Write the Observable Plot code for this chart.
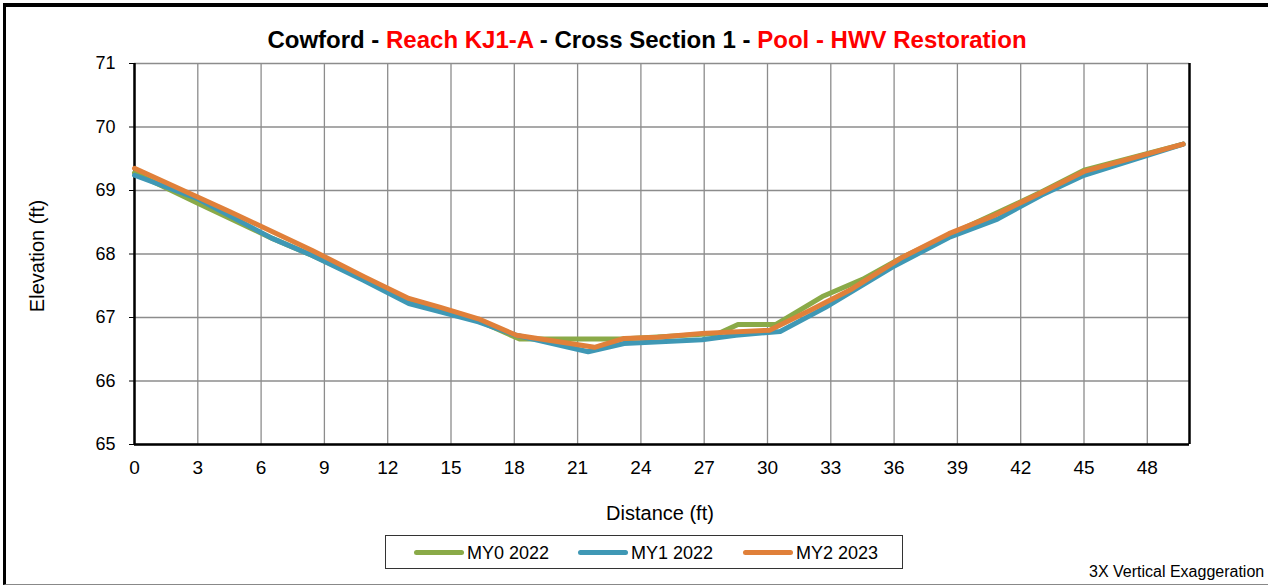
<!DOCTYPE html>
<html>
<head>
<meta charset="utf-8">
<script src="https://cdn.jsdelivr.net/npm/d3@7"></script>
<script src="https://cdn.jsdelivr.net/npm/@observablehq/plot@0.6"></script>
<style>
  html, body { margin: 0; padding: 0; background: #fff; }
  #wrap { position: relative; width: 1268px; height: 587px; overflow: hidden; font-family: "Liberation Sans", Arial, sans-serif; background: #fff; }
  #frame { position: absolute; left: 3px; top: 3px; width: 1280px; height: 582px; border-top: 4px solid #000; border-left: 3px solid #000; border-bottom: 1px solid #888; box-sizing: border-box; }
  #title { position: absolute; left: 0; width: 1294px; top: 26px; text-align: center; font-weight: bold; font-size: 24px; color: #000; white-space: nowrap; }
  #title .red { color: #ff0000; }
  #chart { position: absolute; left: 0; top: 0; }
  #legend { position: absolute; left: 385px; top: 535px; width: 518px; height: 34px; border: 1px solid #333; box-sizing: border-box; font-size: 18px; }
  .item { position: absolute; top: 7px; white-space: nowrap; }
  .sw { display: inline-block; width: 50px; height: 5px; border-radius: 3px; vertical-align: middle; margin-right: 3px; position: relative; top: -2px; }
  #note { position: absolute; left: 1089px; top: 563px; font-size: 16px; white-space: nowrap; }
  #xlabel { position: absolute; left: 460px; width: 400px; top: 502px; text-align: center; font-size: 20px; white-space: nowrap; }
  #ylabel { position: absolute; left: 37px; top: 256px; font-size: 20px; white-space: nowrap; transform: translate(-50%, -50%) rotate(-90deg); }
</style>
</head>
<body>
<div id="wrap">
  <div id="frame"></div>
  <div id="chart"></div>
  <div id="title">Cowford - <span class="red">Reach KJ1-A</span> - Cross Section 1 - <span class="red">Pool - HWV Restoration</span></div>
  <div id="xlabel">Distance (ft)</div>
  <div id="ylabel">Elevation (ft)</div>
  <div id="legend"></div>
  <div id="note">3X Vertical Exaggeration</div>
</div>
<script>
const seriesNames = ["MY0 2022", "MY1 2022", "MY2 2023"];
const seriesColors = ["#8AAA48", "#3F98B5", "#E0803A"];

const my0Distance = [0, 3, 6.5, 8.4, 10.9, 13, 14.5, 16.3, 18.25, 23.1, 27.7, 28.6, 30.4, 32.6, 34.5, 36.4, 38.6, 40.7, 43, 45, 49.7];
const my0Elevation = [69.28, 68.8, 68.25, 67.98, 67.6, 67.25, 67.1, 66.95, 66.66, 66.66, 66.75, 66.89, 66.89, 67.33, 67.6, 67.95, 68.3, 68.62, 68.98, 69.32, 69.73];

const my1Distance = [0, 3, 6.5, 8.4, 10.9, 13, 14.5, 16.3, 18.1, 21.5, 23.2, 26.9, 28.5, 30.6, 32.75, 35.9, 38.6, 40.9, 43, 45, 49.7];
const my1Elevation = [69.24, 68.87, 68.25, 67.98, 67.58, 67.22, 67.09, 66.93, 66.72, 66.46, 66.59, 66.65, 66.72, 66.78, 67.16, 67.79, 68.26, 68.55, 68.93, 69.24, 69.73];

const my2Distance = [0, 4.5, 8.4, 10.9, 13, 14.5, 16.3, 18.1, 21.8, 23.2, 24.8, 26.9, 30.1, 32, 34, 36.4, 38.6, 40.7, 43, 45, 49.7];
const my2Elevation = [69.35, 68.67, 68.06, 67.64, 67.3, 67.16, 66.98, 66.72, 66.53, 66.67, 66.69, 66.75, 66.8, 67.11, 67.45, 67.95, 68.32, 68.6, 68.97, 69.3, 69.73];

const xTicks = [0, 3, 6, 9, 12, 15, 18, 21, 24, 27, 30, 33, 36, 39, 42, 45, 48];
const yTicks = [65, 66, 67, 68, 69, 70, 71];

const build = (name, xs, ys) => xs.map((d, i) => ({series: name, distance: d, elevation: ys[i]}));
const data = [
  ...build(seriesNames[0], my0Distance, my0Elevation),
  ...build(seriesNames[1], my1Distance, my1Elevation),
  ...build(seriesNames[2], my2Distance, my2Elevation)
];

const chart = Plot.plot({
  width: 1268,
  height: 587,
  marginLeft: 134,
  marginRight: 79,
  marginTop: 63,
  marginBottom: 143,
  style: {fontFamily: "'Liberation Sans', Arial, sans-serif", background: "transparent", color: "#000"},
  x: {domain: [0, 50], ticks: xTicks, label: null},
  y: {domain: [65, 71], ticks: yTicks, label: null},
  color: {domain: seriesNames, range: seriesColors},
  marks: [
    Plot.gridX(xTicks, {stroke: "#8c8c8c", strokeOpacity: 1, strokeWidth: 1.3}),
    Plot.gridY(yTicks, {stroke: "#8c8c8c", strokeOpacity: 1, strokeWidth: 1.3}),
    Plot.axisX(xTicks, {tickSize: 0, tickPadding: 16, fontSize: 19, label: null, tickFormat: d => String(d)}),
    Plot.axisY(yTicks, {tickSize: 5, tickPadding: 14, fontSize: 18, label: null, tickFormat: d => String(d)}),
    Plot.ruleX([0, 50], {stroke: "#000", strokeWidth: 2.5}),
    Plot.ruleY([65], {stroke: "#000", strokeWidth: 2.5}),
    Plot.line(data, {x: "distance", y: "elevation", z: "series", stroke: "series", strokeWidth: 5, strokeLinejoin: "round", strokeLinecap: "round"})
  ]
});
document.getElementById("chart").appendChild(chart);

const legend = document.getElementById("legend");
const lefts = [28, 192, 357];
seriesNames.forEach((n, i) => {
  const it = document.createElement("div");
  it.className = "item";
  it.style.left = lefts[i] + "px";
  it.innerHTML = `<span class="sw" style="background:${seriesColors[i]}"></span>${n}`;
  legend.appendChild(it);
});
</script>
</body>
</html>
